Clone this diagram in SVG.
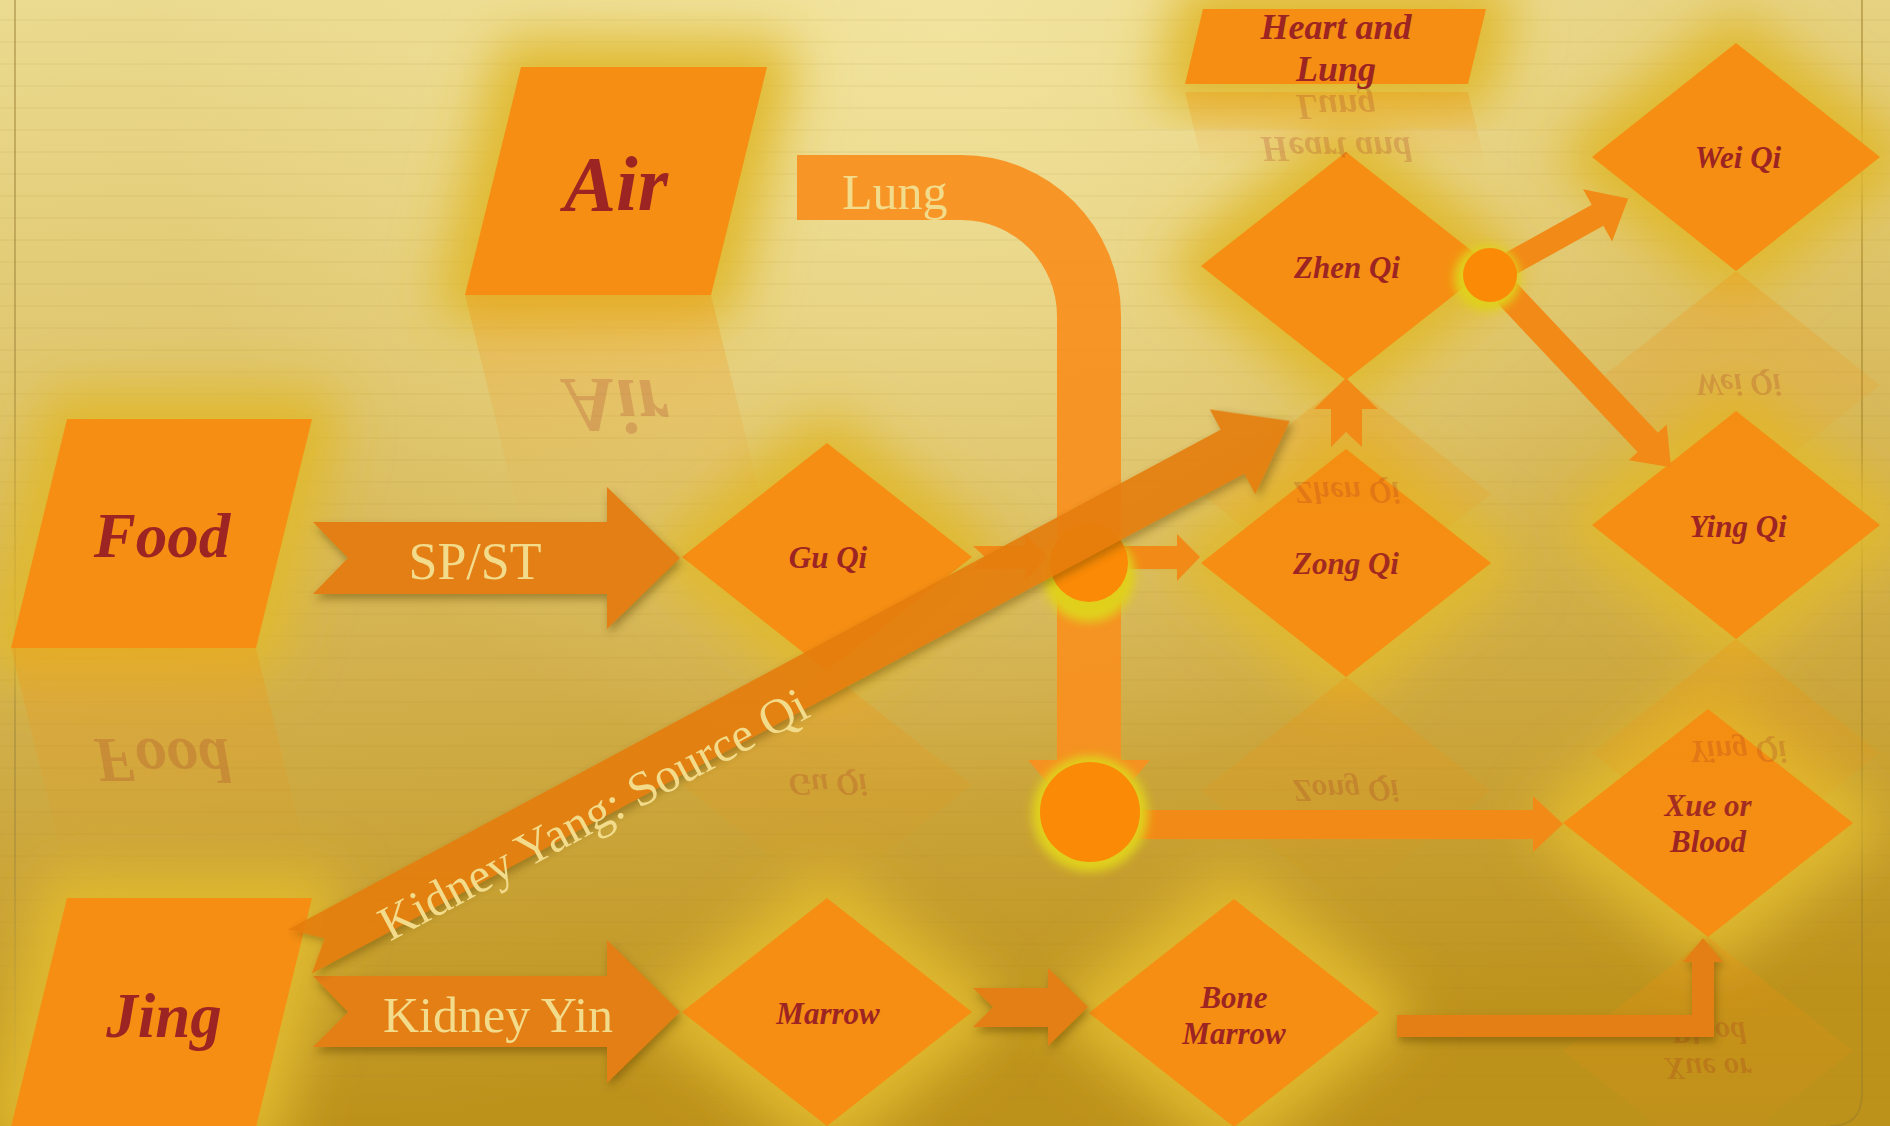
<svg xmlns="http://www.w3.org/2000/svg" width="1890" height="1126" viewBox="0 0 1890 1126">
<defs>
  <linearGradient id="bg" x1="0" y1="0" x2="0.15" y2="1">
    <stop offset="0" stop-color="#ebdb90"/>
    <stop offset="0.35" stop-color="#dfc56c"/>
    <stop offset="0.68" stop-color="#cfab44"/>
    <stop offset="1" stop-color="#bd921b"/>
  </linearGradient>
  <radialGradient id="hl" cx="950" cy="0" r="800" gradientUnits="userSpaceOnUse">
    <stop offset="0" stop-color="#f6eaa8" stop-opacity="0.7"/>
    <stop offset="1" stop-color="#f6eaa8" stop-opacity="0"/>
  </radialGradient>
  <pattern id="lines" width="40" height="22" patternUnits="userSpaceOnUse">
    <rect x="0" y="19" width="40" height="2" fill="#9a7a2a" opacity="0.07"/>
  </pattern>
  <linearGradient id="refl" x1="0" y1="1" x2="0" y2="0">
    <stop offset="0" stop-color="#f0900e" stop-opacity="0.3"/>
    <stop offset="1" stop-color="#f0900e" stop-opacity="0"/>
  </linearGradient>
  <filter id="blur" x="-60%" y="-60%" width="220%" height="220%">
    <feGaussianBlur stdDeviation="26"/>
  </filter>
  <filter id="blurS" x="-50%" y="-50%" width="200%" height="200%">
    <feGaussianBlur stdDeviation="5"/>
  </filter>
  <filter id="shadow" x="-20%" y="-30%" width="140%" height="160%">
    <feDropShadow dx="2" dy="5" stdDeviation="4" flood-color="#5e4200" flood-opacity="0.45"/>
  </filter>
  <style>
    .glow{fill:#e0b92e;stroke:#e0b92e;stroke-width:56;stroke-linejoin:round;filter:url(#blur)}
    .node{fill:#f58e13}
    .rshape{fill:url(#refl)}
    .rtext{fill:#9c2422;opacity:0.2}
    .lbl{font-family:"Liberation Serif","Times New Roman",serif;font-weight:bold;font-style:italic;fill:#9c2422;text-anchor:middle}
    .cap{font-family:"Liberation Serif","Times New Roman",serif;fill:#f2dc8c}
    .arr{fill:#e47f12;filter:url(#shadow)}
    .arrp{fill:#f28a18}
    .dot{fill:#fb8a06}
    .dotglow{fill:#e0d01c;filter:url(#blurS)}
  </style>
</defs>

<!-- background -->
<rect width="1890" height="1126" fill="url(#bg)"/>
<rect width="1890" height="1126" fill="url(#hl)"/>
<rect width="1890" height="1126" fill="url(#lines)"/>
<line x1="15" y1="0" x2="15" y2="1126" stroke="#a58a40" stroke-width="2" opacity="0.55"/>
<path d="M1862,0 V1094 Q1862,1126 1830,1126" fill="none" stroke="#9c7e28" stroke-width="2" opacity="0.5"/>

<!-- glows -->
<g id="glows">
  <polygon class="glow" points="521,67 767,67 711,295 465,295"/>
  <polygon class="glow" points="67,419 312,419 256,648 11,648"/>
  <polygon class="glow" points="67,898 312,898 256,1127 11,1127"/>
  <polygon class="glow" points="1203,9 1486,9 1468,84 1185,84"/>
  <polygon class="glow" points="1346,152 1491,266 1346,380 1201,266"/>
  <polygon class="glow" points="1736,43 1880,157 1736,271 1592,157"/>
  <polygon class="glow" points="1736,411 1880,525 1736,639 1592,525"/>
  <polygon class="glow" points="1346,449 1491,563 1346,677 1201,563"/>
  <polygon class="glow" points="827,443 972,557 827,671 682,557"/>
  <polygon class="glow" points="827,898 972,1012 827,1126 682,1012"/>
  <polygon class="glow" points="1234,899 1379,1013 1234,1127 1089,1013"/>
  <polygon class="glow" points="1708,709 1853,823 1708,937 1563,823"/>
</g>

<!-- nodes -->
<g id="node-air"><polygon class="node" points="521,67 767,67 711,295 465,295"/><text class="lbl" x="616" y="210" font-size="78">Air</text></g>
<g id="node-food"><polygon class="node" points="67,419 312,419 256,648 11,648"/><text class="lbl" x="162" y="557" font-size="63">Food</text></g>
<g id="node-jing"><polygon class="node" points="67,898 312,898 256,1127 11,1127"/><text class="lbl" x="164" y="1037" font-size="63">Jing</text></g>
<g id="node-heart-lung"><polygon class="node" points="1203,9 1486,9 1468,84 1185,84"/><text class="lbl" x="1336" y="39" font-size="36">Heart and</text><text class="lbl" x="1336" y="81" font-size="36">Lung</text></g>
<g id="node-zhen-qi"><polygon class="node" points="1346,152 1491,266 1346,380 1201,266"/><text class="lbl" x="1347" y="278" font-size="31">Zhen Qi</text></g>
<g id="node-wei-qi"><polygon class="node" points="1736,43 1880,157 1736,271 1592,157"/><text class="lbl" x="1738" y="168" font-size="31">Wei Qi</text></g>
<g id="node-ying-qi"><polygon class="node" points="1736,411 1880,525 1736,639 1592,525"/><text class="lbl" x="1738" y="537" font-size="31">Ying Qi</text></g>
<g id="node-zong-qi"><polygon class="node" points="1346,449 1491,563 1346,677 1201,563"/><text class="lbl" x="1346" y="574" font-size="31">Zong Qi</text></g>
<g id="node-gu-qi"><polygon class="node" points="827,443 972,557 827,671 682,557"/><text class="lbl" x="828" y="568" font-size="31">Gu Qi</text></g>
<g id="node-marrow"><polygon class="node" points="827,898 972,1012 827,1126 682,1012"/><text class="lbl" x="828" y="1024" font-size="31">Marrow</text></g>
<g id="node-bone-marrow"><polygon class="node" points="1234,899 1379,1013 1234,1127 1089,1013"/><text class="lbl" x="1234" y="1008" font-size="31">Bone</text><text class="lbl" x="1234" y="1044" font-size="31">Marrow</text></g>
<g id="node-xue-blood"><polygon class="node" points="1708,709 1853,823 1708,937 1563,823"/><text class="lbl" x="1708" y="816" font-size="31">Xue or</text><text class="lbl" x="1708" y="852" font-size="31">Blood</text></g>

<!-- reflections -->
<g id="reflections">
  <g transform="matrix(1 0 0 -1 0 590)">
    <polygon class="rshape" points="521,67 767,67 711,295 465,295"/>
    <text class="lbl rtext" x="616" y="210" font-size="78">Air</text>
  </g>
  <g transform="matrix(1 0 0 -1 0 1296)">
    <polygon class="rshape" points="67,419 312,419 256,648 11,648"/>
    <text class="lbl rtext" x="162" y="557" font-size="63">Food</text>
  </g>
  <g transform="matrix(1 0 0 -1 0 176)">
    <polygon class="rshape" points="1203,9 1486,9 1468,84 1185,84"/>
    <text class="lbl rtext" x="1336" y="39" font-size="36">Heart and</text>
    <text class="lbl rtext" x="1336" y="81" font-size="36">Lung</text>
  </g>
  <g transform="matrix(1 0 0 -1 0 760)">
    <polygon class="rshape" points="1346,152 1491,266 1346,380 1201,266"/>
    <text class="lbl rtext" x="1347" y="278" font-size="31">Zhen Qi</text>
  </g>
  <g transform="matrix(1 0 0 -1 0 542)">
    <polygon class="rshape" points="1736,43 1880,157 1736,271 1592,157"/>
    <text class="lbl rtext" x="1738" y="168" font-size="31">Wei Qi</text>
  </g>
  <g transform="matrix(1 0 0 -1 0 1278)">
    <polygon class="rshape" points="1736,411 1880,525 1736,639 1592,525"/>
    <text class="lbl rtext" x="1738" y="537" font-size="31">Ying Qi</text>
  </g>
  <g transform="matrix(1 0 0 -1 0 1354)">
    <polygon class="rshape" points="1346,449 1491,563 1346,677 1201,563"/>
    <text class="lbl rtext" x="1346" y="574" font-size="31">Zong Qi</text>
  </g>
  <g transform="matrix(1 0 0 -1 0 1342)">
    <polygon class="rshape" points="827,443 972,557 827,671 682,557"/>
    <text class="lbl rtext" x="828" y="568" font-size="31">Gu Qi</text>
  </g>
  <g transform="matrix(1 0 0 -1 0 1874)">
    <polygon class="rshape" points="1708,709 1853,823 1708,937 1563,823"/>
    <text class="lbl rtext" x="1708" y="816" font-size="31">Xue or</text>
    <text class="lbl rtext" x="1708" y="852" font-size="31">Blood</text>
  </g>
</g>

<!-- connectors -->
<g id="connectors">
  <!-- Lung band -->
  <path d="M797,155 H961 A160,160 0 0 1 1121,315 V760 H1150 L1089,832 L1028,760 H1057 V316 A96,96 0 0 0 961,220 H797 Z" fill="#f8901f" opacity="0.93"/>
  <text class="cap" x="842" y="209" font-size="50">Lung</text>

  <polygon class="arr" points="313,522 607,522 607,487 680,558 607,629 607,594 313,594 348,558"/>
  <text class="cap" x="475" y="579" font-size="52" text-anchor="middle">SP/ST</text>

  <polygon class="arr" points="313,976 607,976 607,940 680,1012 607,1083 607,1047 313,1047 348,1012"/>
  <text class="cap" x="498" y="1032" font-size="50" text-anchor="middle">Kidney Yin</text>

  <polygon class="arr" points="973,988 1048,988 1048,968 1088,1007 1048,1046 1048,1027 973,1027 993,1007"/>

  <polygon class="arrp" points="973,546 1025,546 1025,534 1048,557 1025,581 1025,569 973,569 985,557"/>
  <polygon class="arrp" points="1110,546 1177,546 1177,534 1200,557 1177,581 1177,569 1110,569"/>
  <polygon class="arrp" points="1331,447 1331,409 1314,409 1346,378 1378,409 1362,409 1362,447 1346,432"/>

  <polygon class="arrp" points="1130,810 1533,810 1533,796 1563,824 1533,852 1533,839 1130,839"/>
  <polygon class="arr" points="1397,1015 1692,1015 1692,962 1683,962 1703,938 1723,962 1714,962 1714,1037 1397,1037"/>

  <polygon class="arrp" transform="translate(1490,275) rotate(-29)" points="0,-12 123,-12 123,-30 158,0 123,30 123,12 0,12"/>
  <polygon class="arrp" transform="translate(1490,275) rotate(46.7)" points="0,-14 230,-14 230,-26 264,0 230,26 230,14 0,14"/>

  <!-- junction dots -->
  <circle class="dotglow" cx="1090" cy="814" r="58"/>
  <circle class="dot" cx="1090" cy="812" r="50"/>
  <circle class="dotglow" cx="1089" cy="576" r="46"/>
  <circle class="dot" cx="1089" cy="563" r="39"/>
  <circle class="dotglow" cx="1487" cy="278" r="33"/>
  <circle class="dot" cx="1490" cy="275" r="27"/>

  <!-- Kidney Yang: Source Qi -->
  <g transform="translate(300,951.5) rotate(-28.19)">
    <polygon points="0,-25 1058,-25 1058,-48 1123,0 1058,48 1058,25 0,25 28,0" fill="#e57d10" opacity="0.9" filter="url(#shadow)"/>
    <text class="cap" x="84" y="34" font-size="49">Kidney Yang: Source Qi</text>
  </g>
</g>
</svg>
